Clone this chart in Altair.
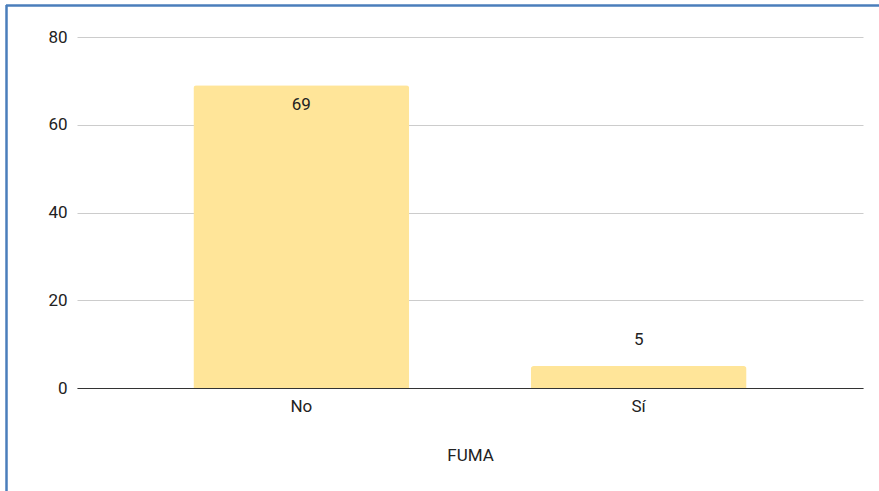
import altair as alt
import pandas as pd

# Respondents by smoking status
categories = ["No", "Sí"]
counts = [69, 5]

df = pd.DataFrame({"FUMA": categories, "count": counts})

FONT = "Roboto"
FS = 17
BAR_COLOR = "#ffe599"
FRAME_BLUE = "#4a7ebb"
TEXT = "#222222"

x_enc = alt.X(
    "FUMA:N",
    sort=categories,
    scale=alt.Scale(paddingInner=0.36, paddingOuter=0.345),
    axis=alt.Axis(
        title="FUMA",
        labelAngle=0,
        labelFontSize=FS,
        labelColor=TEXT,
        labelPadding=10,
        ticks=False,
        domainColor="#333333",
        domainWidth=1,
        titleFontSize=FS,
        titleFontWeight="normal",
        titleColor=TEXT,
        titlePadding=33,
        grid=False,
    ),
)
y_enc = alt.Y(
    "count:Q",
    scale=alt.Scale(domain=[0, 80]),
    axis=alt.Axis(
        title=None,
        values=[0, 20, 40, 60, 80],
        labelFontSize=FS,
        labelColor=TEXT,
        labelPadding=10,
        ticks=False,
        domain=False,
        gridColor="#cccccc",
        gridWidth=1,
    ),
)

base = alt.Chart(df).encode(x=x_enc, y=y_enc)

bars = base.mark_bar(color=BAR_COLOR, cornerRadiusTopLeft=3, cornerRadiusTopRight=3)

label_inside = base.transform_filter(alt.datum.count >= 20).mark_text(
    font=FONT, fontSize=FS, color=TEXT, baseline="middle", dy=20
).encode(text="count:Q")

label_above = base.transform_filter(alt.datum.count < 20).mark_text(
    font=FONT, fontSize=FS, color=TEXT, baseline="middle", dy=-26
).encode(text="count:Q")

# Frame lines along the top and left edges of the page
frame_top = alt.Chart(df).mark_rule(color=FRAME_BLUE, strokeWidth=2).encode(
    x=alt.value(-71), x2=alt.value(810), y=alt.value(-31.5)
)
frame_left = alt.Chart(df).mark_rule(color=FRAME_BLUE, strokeWidth=2).encode(
    x=alt.value(-70.5), y=alt.value(-32), y2=alt.value(460)
)

chart = (
    alt.layer(bars, label_inside, label_above, frame_top, frame_left)
    .properties(
        width=786,
        height=351,
        autosize=alt.AutoSizeParams(type="none"),
        padding={"left": 77, "top": 37, "right": 16, "bottom": 103},
        background="white",
    )
    .configure(font=FONT)
    .configure_view(stroke=None)
)

chart.save("out.html", embed_options={"renderer": "svg", "actions": False})
